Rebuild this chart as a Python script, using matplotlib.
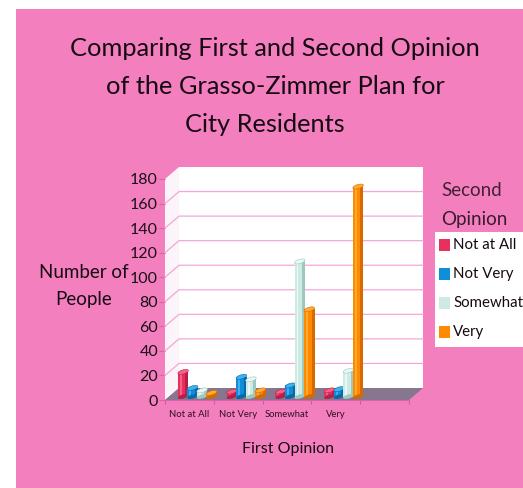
import numpy as np
import matplotlib
matplotlib.use("Agg")
import matplotlib.pyplot as plt
from matplotlib.patches import Rectangle, Polygon

categories = ["Not at All", "Not Very", "Somewhat", "Very"]
series_names = ["Not at All", "Not Very", "Somewhat", "Very"]
not_at_all = [20, 4, 4, 5]
not_very = [7, 16, 9, 6]
somewhat = [5, 14, 110, 21]
very = [3, 5, 71, 171]
yticks = list(range(0, 181, 20))
colors = ["#E8305F", "#0F8FD8", "#CDEBE4", "#FF8A00"]
darks = ["#B81E48", "#0868A8", "#9CC8BE", "#D86800"]
lights = ["#F86088", "#40B0F0", "#E8F8F4", "#FFAA30"]

W, H = 523, 488
PINK = "#F47FBE"
plt.rcParams["font.family"] = ["Lato", "Open Sans", "DejaVu Sans"]
fig = plt.figure(figsize=(W / 100, H / 100), dpi=100, facecolor="white")
fig.patches.append(Rectangle((16 / W, 0), 1, (H - 9) / H, transform=fig.transFigure,
                             facecolor=PINK, edgecolor="none", zorder=-5))

ax = fig.add_axes([165 / W, (H - 400) / H, 244 / W, 221 / H])
ax.patch.set_alpha(0)
ax.set_xlim(0, 5)
ax.set_ylim(0, 180)
sx = 5 / 244      # data per pixel
sy = 180 / 221
DX, DY = 14 * sx, 12 * sy

def poly(pts, **kw):
    ax.add_patch(Polygon(pts, closed=True, clip_on=False, **kw))

# walls and floor
poly([(DX, DY), (5 + DX, DY), (5 + DX, 180 + DY), (DX, 180 + DY)], facecolor="white", edgecolor="none", zorder=1)
poly([(0, 0), (DX, DY), (DX, 180 + DY), (0, 180)], facecolor="#FBF4F8", edgecolor="none", zorder=1)
poly([(0, 0), (5, 0), (5 + DX, DY), (DX, DY)], facecolor="#86768E", edgecolor="none", zorder=2)
for v in yticks[1:-1]:
    ax.plot([0, DX, 5 + DX], [v, v + DY, v + DY], color="#F4A6D8", lw=0.9, zorder=2, clip_on=False)

# bars
step = 0.195
bar_w = 0.215
off_x, off_y = 8 * sx, 3.5 * sy
t = np.linspace(0, 2 * np.pi, 40)

def cap(xc, yc, w, fc, ec=None, z=5):
    ex = w / 2 * np.cos(t) + 0.25 * w / 2 * np.sin(t) * 0.3
    ey = (w / 2 / sx * 0.42 * np.sin(t) + w / 2 / sx * 0.22 * np.cos(t)) * sy
    poly(np.c_[xc + ex, yc + ey], facecolor=fc, edgecolor=ec or "none", lw=0.4, zorder=z)

for s, vals in enumerate([not_at_all, not_very, somewhat, very]):
    xs = np.arange(4) + 0.5 + off_x + (s - 1.5) * step
    z = 5 + s
    ax.bar(xs, vals, bar_w, bottom=off_y, color=colors[s], linewidth=0, zorder=z, clip_on=False)
    ax.bar(xs + bar_w * 0.36, vals, bar_w * 0.28, bottom=off_y, color=darks[s], linewidth=0, zorder=z, clip_on=False)
    ax.bar(xs - bar_w * 0.22, vals, bar_w * 0.18, bottom=off_y, color=lights[s], linewidth=0, zorder=z, clip_on=False)
    for x, h in zip(xs, vals):
        cap(x, off_y, bar_w, darks[s], z=z)
        cap(x, off_y + h, bar_w, lights[s], ec=darks[s], z=z)

# axes
for sp in ax.spines.values():
    sp.set_visible(False)
ax.set_yticks(yticks)
ax.set_yticklabels([str(v) for v in yticks], fontsize=11.5, color="#1A1018")
ax.tick_params(axis="y", length=4, color="#E060A8", pad=1, width=0.8)
ax.set_xticks(range(6))
ax.set_xticklabels([""] * 6)
ax.tick_params(axis="x", length=3, color="#C06090", width=0.7)
ax.set_xticks(np.arange(4) + 0.5, categories, minor=True, fontsize=6.8, color="#301020")
ax.tick_params(axis="x", which="minor", length=0, pad=7)
ax.plot([0, 5], [0, 0], color="#E060A8", lw=0.8, zorder=2, clip_on=False)

# text
def T(x, y, s, size, ha="center", **kw):
    fig.text(x / W, 1 - y / H, s, fontsize=size, ha=ha, va="center", color="#150A12", **kw)

T(275, 49, "Comparing First and Second Opinion", 18.3)
T(275, 87, "of the Grasso-Zimmer Plan for", 18.3)
T(265, 124, "City Residents", 18.3)
T(84, 272, "Number of", 13.5)
T(84, 300, "People", 13.5)
T(288, 449, "First Opinion", 11.5)
T(441, 191, "Second", 13.5, ha="left", alpha=0.8)
T(441, 220, "Opinion", 13.5, ha="left", alpha=0.85)

# legend
fig.patches.append(Rectangle((435 / W, 1 - 347 / H), 90 / W, 115 / H, transform=fig.transFigure,
                             facecolor="white", edgecolor="none", zorder=3))
for name, c, y in zip(series_names, colors, [245, 274, 303, 332]):
    fig.patches.append(Rectangle((439 / W, 1 - (y + 6) / H), 11 / W, 12 / H, transform=fig.transFigure,
                                 facecolor=c, edgecolor="none", zorder=4))
    T(453, y, name, 10.8, ha="left", zorder=5)

fig.savefig("out.png", dpi=100, facecolor="white")
